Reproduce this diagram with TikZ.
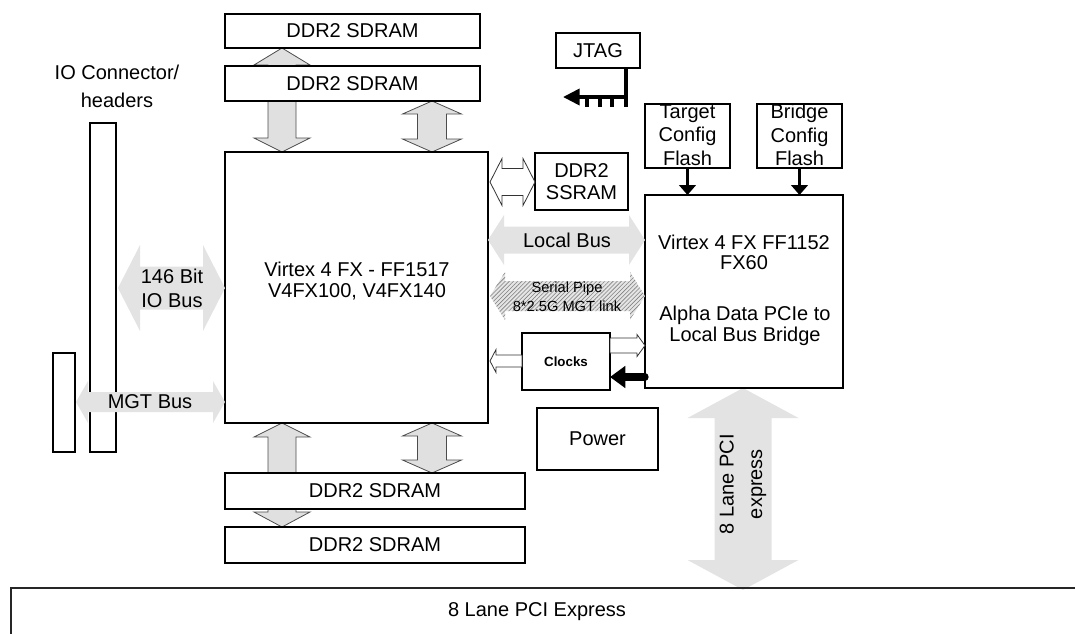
\documentclass[tikz,border=0pt]{standalone}
\usepackage{fontspec}
\setmainfont{Liberation Sans}
\usetikzlibrary{arrows.meta,patterns,patterns.meta}
% block arrow macros: coordinates in px (y downward)
\newcommand\blkHD[7]{\path[#7] (#1,#3) -- (#1+#6,#3-#5) -- (#1+#6,#3-#4) -- (#2-#6,#3-#4) -- (#2-#6,#3-#5) -- (#2,#3) -- (#2-#6,#3+#5) -- (#2-#6,#3+#4) -- (#1+#6,#3+#4) -- (#1+#6,#3+#5) -- cycle;}
\newcommand\blkVD[7]{\path[#7] (#3,#1) -- (#3+#5,#1+#6) -- (#3+#4,#1+#6) -- (#3+#4,#2-#6) -- (#3+#5,#2-#6) -- (#3,#2) -- (#3-#5,#2-#6) -- (#3-#4,#2-#6) -- (#3-#4,#1+#6) -- (#3-#5,#1+#6) -- cycle;}
\newcommand\blkVDown[7]{\path[#7] (#3-#4,#1) -- (#3+#4,#1) -- (#3+#4,#2-#6) -- (#3+#5,#2-#6) -- (#3,#2) -- (#3-#5,#2-#6) -- (#3-#4,#2-#6) -- cycle;}
\newcommand\blkVUp[7]{\path[#7] (#3,#1) -- (#3+#5,#1+#6) -- (#3+#4,#1+#6) -- (#3+#4,#2) -- (#3-#4,#2) -- (#3-#4,#1+#6) -- (#3-#5,#1+#6) -- cycle;}
\newcommand\blkHL[7]{\path[#7] (#1,#3) -- (#1+#6,#3-#5) -- (#1+#6,#3-#4) -- (#2,#3-#4) -- (#2,#3+#4) -- (#1+#6,#3+#4) -- (#1+#6,#3+#5) -- cycle;}
\newcommand\blkHR[7]{\path[#7] (#1,#3-#4) -- (#2-#6,#3-#4) -- (#2-#6,#3-#5) -- (#2,#3) -- (#2-#6,#3+#5) -- (#2-#6,#3+#4) -- (#1,#3+#4) -- cycle;}
\newcommand\bx[6]{\node[box, minimum width={(#4-#2)*0.75pt}, minimum height={(#5-#3)*0.75pt}] (#1) at ({(#2+#4)/2},{(#3+#5)/2}) {#6};}
\begin{document}
\begin{tikzpicture}[x=0.75pt,y=-0.75pt,
  box/.style={draw=black, line width=1pt, fill=white, inner sep=0pt, outer sep=0pt, align=center, font=\fontsize{15}{17}\selectfont},
  lbl/.style={inner sep=0pt, align=center, font=\fontsize{15}{17}\selectfont},
  garr/.style={fill=black!12, draw=black!70, line width=0.6pt},
  harr/.style={fill=white, draw=black!80, line width=0.6pt},
  larr/.style={fill=black!11},
  hatch/.style={fill=black!10, postaction={pattern={Lines[angle=45,distance=2.2pt,line width=0.45pt]}, pattern color=black!50}},
  thk/.style={line width=2.2pt}
]
\useasboundingbox (0,0) rectangle (1075,633);

% gray vertical arrows (behind boxes)
\blkVUp{48}{72}{282}{14}{28}{17}{garr}
\blkVDown{95}{152}{282}{14}{28}{14}{garr}
\blkVD{101}{152}{432}{14.5}{29.5}{13}{garr}
\blkVUp{423}{473}{282}{14}{28}{14}{garr}
\blkVD{423}{473}{432}{14.5}{29.5}{13}{garr}
\blkVDown{500}{527}{282}{14}{28}{15}{garr}

% PCIe vertical arrow
\blkVD{388}{590}{743}{28.5}{55.5}{30}{larr}

% boxes
\bx{sd1}{225}{14}{480}{48}{DDR2 SDRAM}
\bx{sd2}{225}{66}{480}{101}{DDR2 SDRAM}
\bx{main}{225}{152}{488}{423}{}
\bx{sd3}{225}{473}{525}{509}{DDR2 SDRAM}
\bx{sd4}{225}{527}{525}{563}{DDR2 SDRAM}
\bx{jtag}{556}{33}{640}{68}{JTAG}
\bx{tflash}{645}{104}{730}{168}{}
\bx{bflash}{757}{104}{842}{168}{}
\bx{bridge}{645}{195}{843}{388}{}
\node[box, minimum width={93*0.75pt}, minimum height={57*0.75pt}, font=\fontsize{15}{16}\selectfont] (ssram) at (581.5,181.5) {DDR2\\SSRAM};
\node[box, minimum width={88*0.75pt}, minimum height={57*0.75pt}, font=\fontsize{10}{12}\selectfont\bfseries] (clocks) at (566,361.5) {Clocks};
\bx{power}{537}{408}{658}{470}{Power}
\bx{ioc}{90}{123}{116}{452}{}
\bx{iocs}{53}{353}{75}{452}{}

% texts
\node[lbl, font=\fontsize{15}{16}\selectfont] (maint) at (357,281) {Virtex 4 FX - FF1517\\V4FX100, V4FX140};
\node[lbl, font=\fontsize{15}{15}\selectfont] (bt1) at (744,252) {Virtex 4 FX FF1152\\FX60};
\node[lbl, font=\fontsize{15}{15.5}\selectfont] (bt2) at (745,326) {Alpha Data PCIe to\\Local Bus Bridge};
\node[lbl, font=\fontsize{15}{17.5}\selectfont] (tft) at (687.5,135) {Target\\Config\\Flash};
\node[lbl, font=\fontsize{15}{17.5}\selectfont] (bft) at (799.5,135) {Bridge\\Config\\Flash};
\draw[line width=1pt] (tflash.north west) rectangle (tflash.south east);
\draw[line width=1pt] (bflash.north west) rectangle (bflash.south east);
\node[lbl, font=\fontsize{15}{21}\selectfont] (ioct) at (117,86) {IO Connector/\\headers};

% horizontal gray arrows
\blkHD{118}{225}{288}{21.5}{43}{22}{larr}
\node[lbl, font=\fontsize{15}{18}\selectfont] (iob) at (172,288) {146 Bit\\IO Bus};
\blkHD{76}{225}{402}{10}{21}{12}{larr}
\node[lbl] (mgt) at (150,402) {MGT Bus};
\blkHD{488}{645}{240}{13.5}{25}{16}{larr}
\node[lbl] (lb) at (567,240) {Local Bus};
\blkHD{490}{645}{296}{15}{24}{15}{hatch}
\node[lbl, font=\fontsize{11}{14.5}\selectfont] (sp) at (567,297) {Serial Pipe\\8*2.5G MGT link};

% hollow arrows
\blkHD{490}{535}{182}{13.5}{23.5}{12}{harr}
\blkHL{490}{522}{361}{6}{11.5}{6}{harr}
\blkHR{610}{645}{345.5}{7.5}{11}{8}{harr}

% black arrow bridge -> clocks
\coordinate (ba) at (645,377);
\draw[line width=5.5pt, line cap=round, -{Triangle[length=11.5pt,width=16pt]}] (ba) -- (clocks.east |- ba);

% flash arrows
\draw[line width=2.2pt, -{Triangle[length=7.5pt,width=12.5pt]}] (tflash.south) -- (tflash.south |- bridge.north);
\draw[line width=2.2pt, -{Triangle[length=7.5pt,width=12.5pt]}] (bflash.south) -- (bflash.south |- bridge.north);

% JTAG connector
\coordinate (jt) at (626,68);
\coordinate (jb) at (626,107);
\coordinate (ja) at (563,97);
\draw[line width=2.4pt] (jt) -- (jb);
\draw[line width=2.8pt, -{Triangle[length=12.5pt,width=12pt]}] (627,97) -- (ja);
\foreach \px in {587,600,612} \draw[line width=3pt] (\px,97) -- (\px,107);

% PCIe text
\node[lbl, rotate=90, font=\fontsize{15}{21.5}\selectfont] (pcit) at (743,484) {8 Lane PCI\\express};

% PCI express board
\coordinate (pb1) at (1080,588);
\coordinate (pb2) at (11,588);
\coordinate (pb3) at (11,640);
\draw[line width=1.6pt, draw=black!85] (pb1) -- (pb2) -- (pb3);
\node[lbl] (pcie) at (537,612) {8 Lane PCI Express};
\end{tikzpicture}
\end{document}
